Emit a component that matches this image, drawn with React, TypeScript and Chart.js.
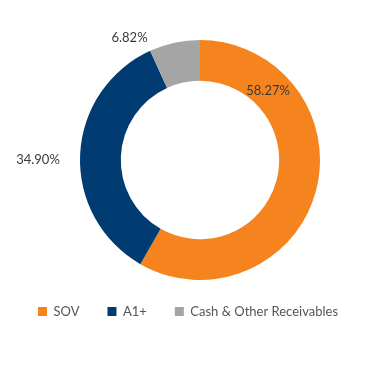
import React, { useEffect, useRef } from "react";
import { Chart, registerables } from "chart.js";

Chart.register(...registerables);

const categories = ["SOV", "A1+", "Cash & Other Receivables"];
const values = [58.27, 34.9, 6.82];
const colors = ["#F5841F", "#003B71", "#A5A5A5"];
// label placement per slice: angle (deg clockwise from top) and radius (px from center)
const labelAngles = [44.6, 270, 330];
const labelRadii = [97, 162, 141];

const labelPlugin = {
  id: "sliceLabels",
  afterLayout(chart: any) {
    const lg = chart.legend;
    if (lg) {
      lg.left -= 12;
      lg.right -= 12;
      lg.top -= 3;
      lg.bottom -= 3;
    }
  },
  afterDatasetsDraw(chart: any) {
    const meta = chart.getDatasetMeta(0);
    const ctx = chart.ctx;
    ctx.save();
    ctx.font = "13px Lato, 'Open Sans', sans-serif";
    ctx.fillStyle = "#3a3a3a";
    ctx.textAlign = "center";
    ctx.textBaseline = "middle";
    meta.data.forEach((arc: any, i: number) => {
      const a = (labelAngles[i] * Math.PI) / 180;
      const x = arc.x + Math.sin(a) * labelRadii[i];
      const y = arc.y - Math.cos(a) * labelRadii[i];
      ctx.fillText(values[i].toFixed(2) + "%", x, y);
    });
    ctx.restore();
  },
};

export default function App() {
  const ref = useRef<HTMLCanvasElement>(null);
  useEffect(() => {
    document.body.style.margin = "0";
    document.body.style.overflow = "hidden";
    const chart = new Chart(ref.current!, {
      type: "doughnut",
      data: {
        labels: categories,
        datasets: [
          {
            data: values,
            backgroundColor: colors,
            borderWidth: 0,
          },
        ],
      },
      options: {
        animation: false,
        responsive: false,
        cutout: "66%",
        layout: { padding: { top: 40, left: 0, right: 0, bottom: 59 } },
        plugins: {
          tooltip: { enabled: false },
          legend: {
            position: "bottom",
            labels: {
              boxWidth: 9,
              boxHeight: 9,
              padding: 28,
              color: "#555",
              font: { family: "Lato, 'Open Sans', sans-serif", size: 13 },
            },
          },
        },
      },
      plugins: [labelPlugin],
    });
    return () => chart.destroy();
  }, []);
  return (
    <div style={{ width: 369, height: 390, background: "#fff", overflow: "hidden" }}>
      <canvas ref={ref} width={400} height={390} />
    </div>
  );
}
